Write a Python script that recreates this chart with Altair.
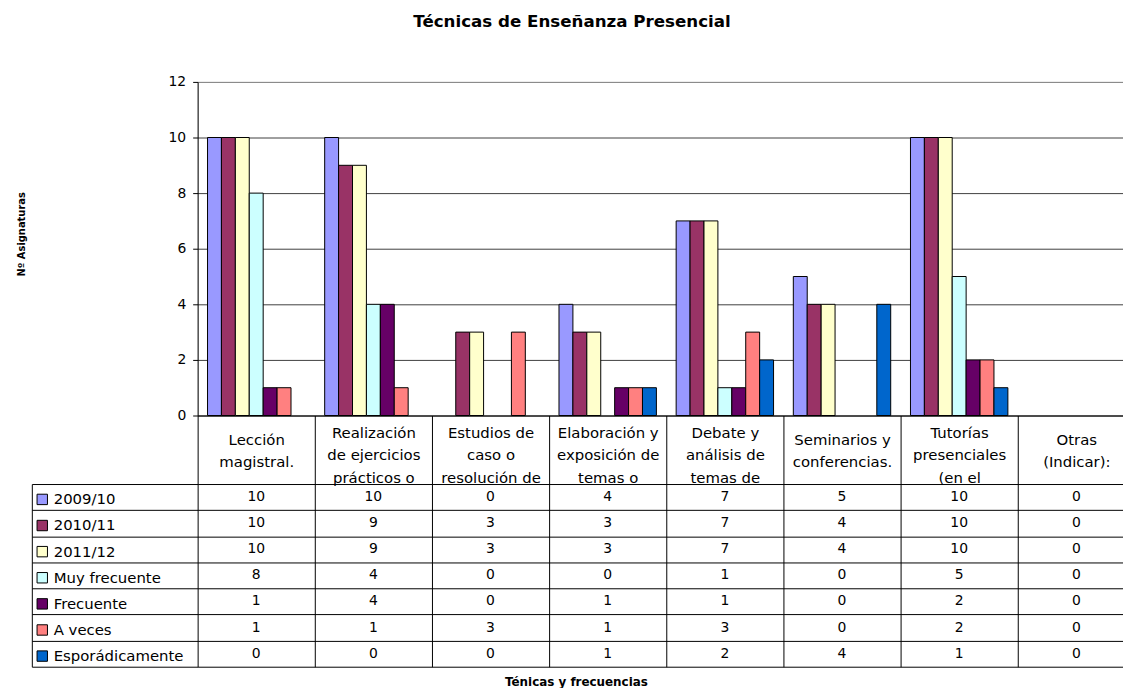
import altair as alt
import pandas as pd

categories = [
    "Lección\nmagistral.",
    "Realización\nde ejercicios\nprácticos o",
    "Estudios de\ncaso o\nresolución de",
    "Elaboración y\nexposición de\ntemas o",
    "Debate y\nanálisis de\ntemas de",
    "Seminarios y\nconferencias.",
    "Tutorías\npresenciales\n(en el",
    "Otras\n(Indicar):",
]
series = ["2009/10", "2010/11", "2011/12", "Muy frecuente", "Frecuente", "A veces", "Esporádicamente"]
v_2009 = [10, 10, 0, 4, 7, 5, 10, 0]
v_2010 = [10, 9, 3, 3, 7, 4, 10, 0]
v_2011 = [10, 9, 3, 3, 7, 4, 10, 0]
v_muy = [8, 4, 0, 0, 1, 0, 5, 0]
v_frec = [1, 4, 0, 1, 1, 0, 2, 0]
v_aveces = [1, 1, 3, 1, 3, 0, 2, 0]
v_espor = [0, 0, 0, 1, 2, 4, 1, 0]
colors = ["#9999FF", "#993366", "#FFFFCC", "#CCFFFF", "#660066", "#FF8080", "#0066CC"]

all_vals = [v_2009, v_2010, v_2011, v_muy, v_frec, v_aveces, v_espor]
rows = []
for s, vals in zip(series, all_vals):
    for c, v in zip(categories, vals):
        rows.append({"cat": c, "series": s, "value": v})
df = pd.DataFrame(rows)

F = "DejaVu Sans"

x_enc = alt.X(
    "cat:N", sort=categories,
    scale=alt.Scale(domain=categories, range=[0, 944], paddingInner=0, paddingOuter=0),
    axis=alt.Axis(
        title="Ténicas y frecuencias", titleFont=F, titleFontSize=12, titleFontWeight="bold",
        titleColor="black", titleX=381, titleY=268, titleBaseline="middle",
        labelExpr="split(datum.label, '\\n')", labelBaseline="middle", labelAlign="center",
        labelPadding={"condition": {"test": "length(split(datum.label, '\\n')) == 2",
                                    "value": -229},
                      "value": -236},
        labelFont=F, labelFontSize=15, labelLineHeight=22.5,
        labelColor="black", labelOverlap=False, labelAngle=0, labelBound=False, labelLimit=0,
        tickBand="extent", tickSize=253, tickColor="black", domainColor="black", grid=False,
    ),
)

bars = alt.Chart(df).transform_filter("datum.value > 0").mark_bar(
    stroke="black", strokeWidth=1
).encode(
    x=x_enc,
    xOffset=alt.XOffset("series:N", sort=series,
                        scale=alt.Scale(domain=series, paddingInner=0, paddingOuter=0.71)),
    y=alt.Y("value:Q", scale=alt.Scale(domain=[0, 12]),
            axis=alt.Axis(
                orient="left", values=[0, 2, 4, 6, 8, 10, 12], title="Nº Asignaturas",
                titleFont=F, titleFontSize=10, titleFontWeight="bold", titleColor="black",
                titleX=-172, titleY=153, labelFont=F, labelFontSize=14, labelColor="black",
                labelPadding=7, tickSize=5, tickColor="black", domainColor="black",
                grid=True,
                gridColor={"condition": {"test": "datum.value === 12", "value": "#808080"},
                           "value": "#404040"},
            )),
    color=alt.Color("series:N", sort=series,
                    scale=alt.Scale(domain=series, range=colors),
                    legend=alt.Legend(
                        orient="none", legendX=-164, legendY=413, title=None,
                        symbolType="square", symbolSize=110, symbolStrokeColor="black",
                        symbolStrokeWidth=1, symbolOpacity=1, labelFont=F, labelFontSize=15,
                        labelColor="black", rowPadding=10.3, padding=0, labelOffset=4,
                        symbolOffset=0, labelLimit=0,
                    )),
)

row_scale = alt.Scale(domain=series, range=[405, 589], paddingInner=0, paddingOuter=0)

table = alt.Chart(df).mark_text(font=F, fontSize=14, color="black", baseline="middle").encode(
    x=x_enc,
    y=alt.Y("series:N", sort=series, scale=row_scale,
            axis=alt.Axis(orient="left", title=None, labels=False, ticks=True, tickSize=167,
                          tickBand="extent", tickColor="black", grid=True, gridColor="black",
                          domain=False)),
    text="value:Q",
)

border = alt.Chart(df).mark_point(opacity=0).encode(
    x=x_enc,
    y=alt.Y("series:N", sort=series, scale=row_scale,
            axis=alt.Axis(orient="left", title=None, labels=False, ticks=False, grid=False,
                          domain=True, domainColor="black", offset=167)),
)

chart = alt.layer(bars, table, border).resolve_scale(y="independent").properties(
    width=932, height=336,
    title=alt.TitleParams("Técnicas de Enseñanza Presencial", font=F, fontSize=16.8,
                          fontWeight="bold", color="black", anchor="middle", frame="group",
                          offset=44, dx=-89),
    autosize=alt.AutoSizeParams(type="none"),
    padding={"left": 191, "top": 72, "right": 0, "bottom": 272},
).configure_view(fill="#C0C0C0", stroke=None).configure(background="white")

chart.save("out.html", embed_options={"renderer": "svg", "actions": False})
